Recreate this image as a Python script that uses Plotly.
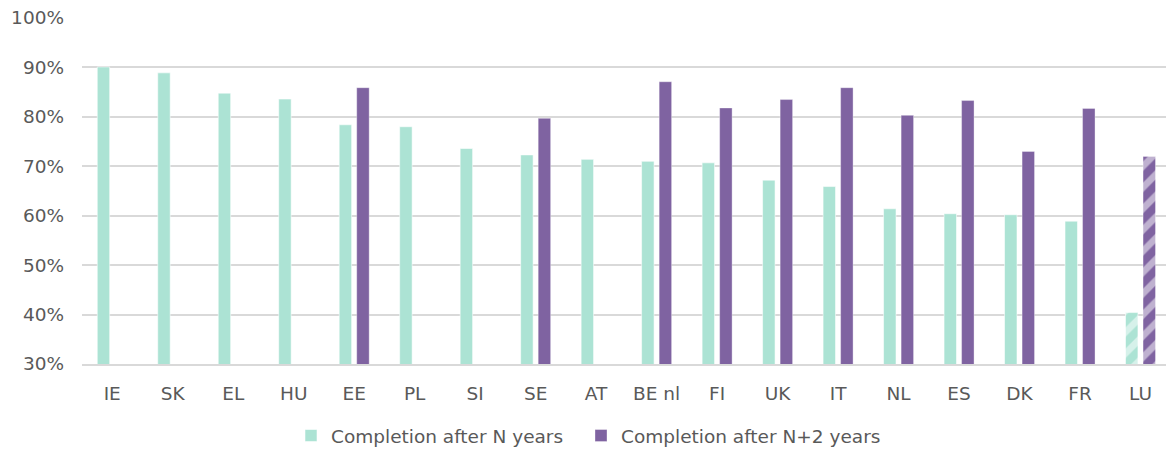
import plotly.graph_objects as go

# Completion rates by country/system
countries = ["IE", "SK", "EL", "HU", "EE", "PL", "SI", "SE", "AT", "BE nl",
             "FI", "UK", "IT", "NL", "ES", "DK", "FR", "LU"]
after_n = [90.1, 88.9, 84.8, 83.6, 78.4, 78.0, 73.6, 72.3, 71.4, 71.0,
           70.7, 67.2, 65.9, 61.4, 60.4, 60.2, 58.9, 40.4]
after_n2 = [None, None, None, None, 85.9, None, None, 79.7, None, 87.1,
            81.8, 83.5, 85.9, 80.3, 83.3, 73.0, 81.7, 72.0]
y_ticks = [30, 40, 50, 60, 70, 80, 90, 100]

MINT = "#ACE3D4"
PURPLE = "#7F63A1"
GRID = "#D9D9D9"
TEXT = "#595959"
FONT = "DejaVu Sans"
FS = 18.5

# LU figures are estimates -> hatched
hatch = ["/" if c == "LU" else "" for c in countries]


def pattern():
    return dict(shape=hatch, fillmode="overlay", fgcolor="white",
                size=15, solidity=0.45)


fig = go.Figure()
fig.add_trace(go.Bar(
    x=countries, y=after_n, name="Completion after N years",
    legend="legend",
    marker=dict(color=MINT, line=dict(color="rgba(255,255,255,0.55)", width=1),
                pattern=pattern()),
))
fig.add_trace(go.Bar(
    x=countries, y=after_n2, name="Completion after N+2 years",
    legend="legend2",
    marker=dict(color=PURPLE, line=dict(color="rgba(255,255,255,0.35)", width=1),
                pattern=pattern()),
))

W, H = 1166, 449
left, top, bottom = 81.75, 17.7, 84.7
step = 60.5  # pixels per category
n_visible = (W - left) / step


def legend_at(x_px):
    return dict(orientation="h", xref="container", yref="container",
                x=x_px / W, y=1 - 436 / H, xanchor="left", yanchor="middle",
                font=dict(family=FONT, size=FS, color=TEXT),
                itemwidth=30, bgcolor="rgba(0,0,0,0)")


fig.update_layout(
    width=W, height=H,
    margin=dict(l=left, r=0, t=top, b=bottom, pad=0, autoexpand=False),
    paper_bgcolor="white", plot_bgcolor="white",
    barmode="group", bargap=0.42, bargroupgap=0.29,
    font=dict(family=FONT, size=FS, color=TEXT),
    showlegend=True,
    legend=legend_at(291),
    legend2=legend_at(581),
)
fig.update_xaxes(
    type="category", range=[-0.5, -0.5 + n_visible],
    showgrid=False, showline=True, linecolor=GRID, linewidth=2,
    ticks="", ticklabelstandoff=12,
    tickfont=dict(family=FONT, size=FS, color=TEXT),
)
fig.update_yaxes(
    range=[30, 100], tickvals=y_ticks,
    ticktext=[f"{v}%" for v in y_ticks],
    showgrid=True, gridcolor=GRID, gridwidth=2,
    zeroline=False, showline=False, ticks="",
    ticklabelstandoff=17,
    tickfont=dict(family=FONT, size=FS, color=TEXT),
)

fig.write_html("out.html")
